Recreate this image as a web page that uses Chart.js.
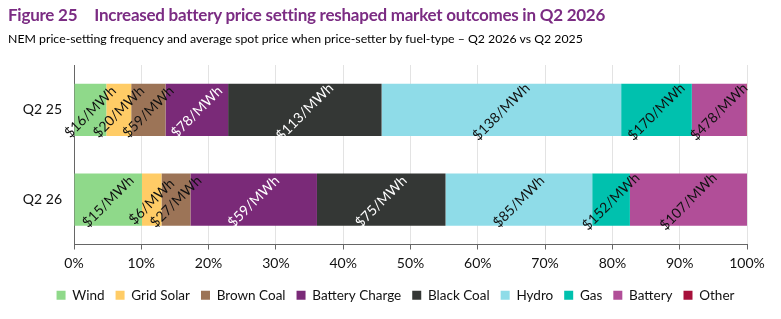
<!DOCTYPE html>
<html>
<head>
<meta charset="utf-8">
<script src="https://cdn.jsdelivr.net/npm/chart.js@4/dist/chart.umd.min.js"></script>
<style>
body{margin:0;background:#fff;font-family:Lato,sans-serif;}
#wrap{position:relative;width:781px;height:319px;}
#title{position:absolute;left:8px;top:4px;font-size:17px;letter-spacing:-0.25px;font-weight:bold;color:#7b2c83;white-space:nowrap;}
#title span{margin-right:17px;}
#sub{position:absolute;left:8px;top:31px;font-size:12.3px;color:#000;white-space:nowrap;}
canvas{position:absolute;left:0;top:0;}
</style>
</head>
<body>
<div id="wrap">
<canvas id="chart" width="781" height="319"></canvas>
<div id="title"><span>Figure 25</span>Increased battery price setting reshaped market outcomes in Q2 2026</div>
<div id="sub">NEM price-setting frequency and average spot price when price-setter by fuel-type – Q2 2026 vs Q2 2025</div>
</div>
<script>
// ===== DATA =====
let periods = ["Q2 25","Q2 26"];
let fuels = ["Wind","Grid Solar","Brown Coal","Battery Charge","Black Coal","Hydro","Gas","Battery","Other"];

// share of intervals as price-setter (%)
let shareQ225 = [4.8, 3.7, 5.1, 9.3, 22.8, 35.6, 10.5, 8.1, 0.1];
let shareQ226 = [10.1, 2.9, 4.3, 18.8, 19.1, 21.8, 5.6, 17.4, 0];

// average spot price when price-setter ($/MWh)
let priceQ225 = [16, 20, 59, 78, 113, 138, 170, 478, null];
let priceQ226 = [15, 6, 27, 59, 75, 85, 152, 107, null];

let xTicks = [0,10,20,30,40,50,60,70,80,90,100];

// ===== STYLE =====
let colors = ["#8fd98a","#ffcc66","#9c7457","#7a2a78","#343735","#8fdce8","#00c1ae","#b14e98","#a6103a"];
let labelColors = ["#111","#111","#111","#fff","#fff","#111","#111","#111","#111"];

let datasets = fuels.map((f,i)=>({
label: f,
data: [shareQ225[i], shareQ226[i]],
prices: [priceQ225[i], priceQ226[i]],
backgroundColor: colors[i],
borderWidth: 0,
categoryPercentage: 1,
barPercentage: 0.58
}));

/* ================= BAR LABELS ================= */
let barLabels = {
id: "barLabels",
afterDatasetsDraw(chart){
let ctx = chart.ctx;
chart.data.datasets.forEach((ds,di)=>{
let meta = chart.getDatasetMeta(di);
meta.data.forEach((bar,j)=>{
let p = ds.prices[j];
if(p === null || p === undefined) return;
let {x, y, base} = bar.getProps(["x","y","base"], true);
let cx = (x + base) / 2;
ctx.save();
ctx.translate(cx, y + 2);
ctx.rotate(-Math.PI/4);
ctx.font = "14px Lato";
ctx.fillStyle = labelColors[di];
ctx.textAlign = "center";
ctx.textBaseline = "middle";
ctx.fillText("$" + p + "/MWh", 0, 0);
ctx.restore();
});
});
}
};

// nudge the legend to sit where the original one is
let legendShift = {
id: "legendShift",
afterLayout(chart){
let lg = chart.legend;
lg.left += 22; lg.right += 22;
lg.top -= 7; lg.bottom -= 7;
}
};

new Chart(document.getElementById("chart"), {
type: "bar",
data: { labels: periods, datasets: datasets },
plugins: [barLabels, legendShift],
options: {
indexAxis: "y",
responsive: false,
animation: false,
layout: { padding: { top: 65, right: 34, left: 0, bottom: 0 } },
plugins: {
tooltip: { enabled: false },
legend: {
position: "bottom",
labels: {
boxWidth: 9, boxHeight: 9, padding: 11,
color: "#111",
font: { family: "Lato", size: 13.5 }
}
}
},
scales: {
x: {
stacked: true,
min: 0, max: 100,
afterBuildTicks(scale){ scale.ticks = xTicks.map(v=>({value:v})); },
afterFit(scale){ scale.height = 40; },
grid: { color: "#e3e3e3", tickColor: "#666", tickLength: 5 },
border: { color: "#666", width: 1 },
ticks: {
color: "#111", padding: 6,
font: { family: "Lato", size: 14 },
callback: v => v + "%"
}
},
y: {
stacked: true,
afterFit(scale){ scale.width = 74; },
grid: { display: false, drawTicks: false },
border: { display: true, color: "#666", width: 1 },
ticks: {
color: "#111", padding: 12,
font: { family: "Lato", size: 14 }
}
}
}
}
});
</script>
</body>
</html>
